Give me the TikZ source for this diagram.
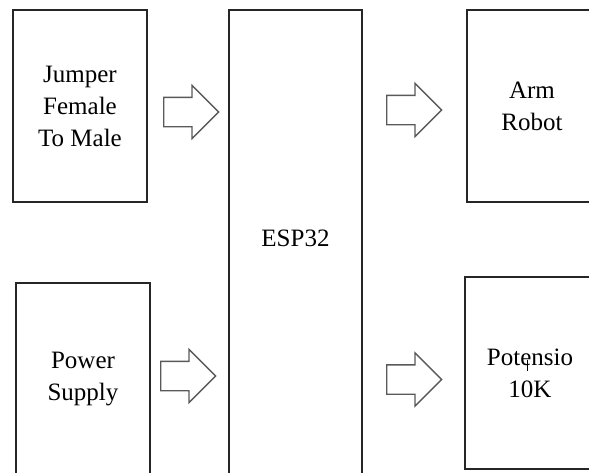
\documentclass[tikz,border=0pt]{standalone}
\usepackage{fontspec}
\setmainfont{Liberation Serif}
\usetikzlibrary{shapes.arrows}

\begin{document}
\begin{tikzpicture}[x=1pt, y=-1pt,
    every node/.style={font=\fontsize{25}{32}\selectfont, align=center},
    unit/.style={draw=black!85, line width=1.6pt, minimum width=134pt, minimum height=192pt, inner sep=0pt},
    flow/.style={single arrow, draw=black!65, fill=white, line width=1.3pt, inner sep=14pt,
      minimum height=55pt, minimum width=52pt, single arrow head extend=12pt, anchor=tail}]
  \useasboundingbox (0,0) rectangle (589,472);
  \clip (0,0) rectangle (589,472);
  % inputs
  \node[unit] (jumper) at (80,106) {Jumper\\Female\\To Male};
  \node[unit] (power) at (83,379) {Power\\Supply};
  % controller
  \node[unit, minimum width=133pt, minimum height=470pt,
    label={[yshift=7pt]center:ESP32}] (esp) at (295.5,245) {};
  % outputs
  \node[unit, minimum width=130pt] (arm) at (532,106) {Arm\\Robot};
  \node[unit, minimum width=130pt] (pot) at (530,373) {Potensio\\10K};
  \draw[line width=0.9pt] (527,360) -- (527,371);
  % flows
  \node[flow] (f1) at (163,112) {};
  \node[flow] (f2) at (160,376) {};
  \node[flow] (f3) at (386,110) {};
  \node[flow] (f4) at (386,379.5) {};
\end{tikzpicture}
\end{document}
